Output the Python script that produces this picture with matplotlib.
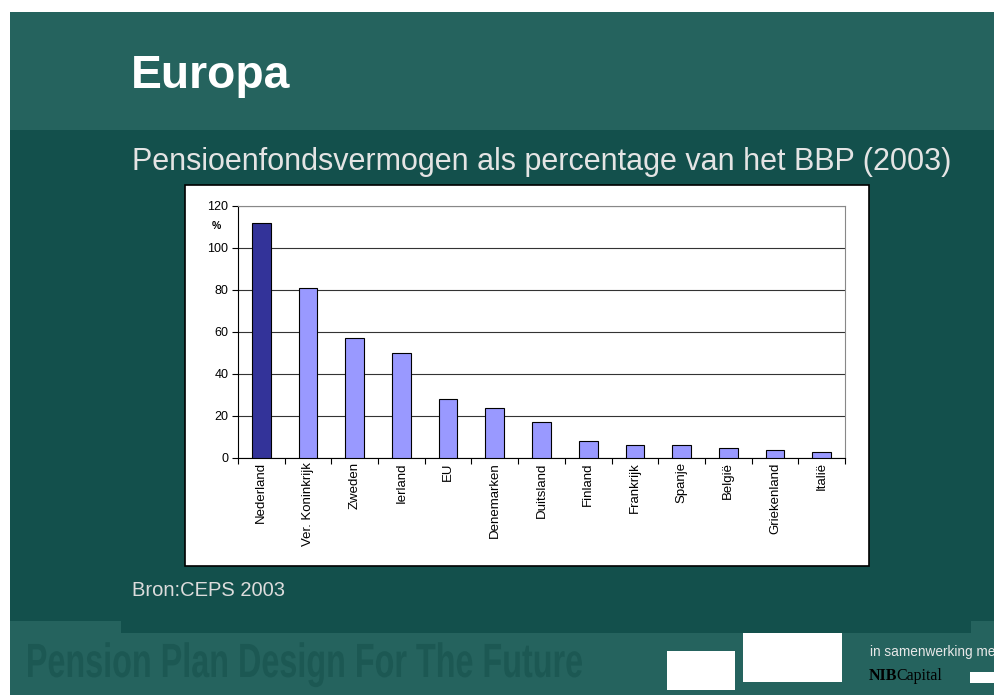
import matplotlib.pyplot as plt
from matplotlib.patches import Rectangle, PathPatch
from matplotlib.textpath import TextPath
from matplotlib.font_manager import FontProperties
from matplotlib.transforms import Affine2D

W, H = 995, 695

landen = ['Nederland', 'Ver. Koninkrijk', 'Zweden', 'Ierland', 'EU', 'Denemarken',
          'Duitsland', 'Finland', 'Frankrijk', 'Spanje', 'België', 'Griekenland', 'Italië']
procent_bbp = [112, 81, 57, 50, 28, 24, 17, 8, 6, 6, 5, 4, 3]
y_ticks = [0, 20, 40, 60, 80, 100, 120]

TOP = '#25635e'
BODY = '#13504c'
DARK_BAR = '#333399'
LIGHT_BAR = '#9999ff'

plt.rcParams['font.family'] = ['Liberation Sans', 'DejaVu Sans']

fig = plt.figure(figsize=(W / 100, H / 100), dpi=100)
fig.patch.set_facecolor('white')


def box(x0, y0, x1, y1, **kw):
    # pixel box (top-left origin) -> figure rectangle
    r = Rectangle((x0 / W, 1 - y1 / H), (x1 - x0) / W, (y1 - y0) / H,
                  transform=fig.transFigure, zorder=-1, **kw)
    fig.patches.append(r)
    return r


def txt(x, y, s, **kw):
    return fig.text(x / W, 1 - y / H, s, **kw)


# slide background
box(10, 12, W, 130, facecolor=TOP, edgecolor='none')
box(10, 130, W, 621, facecolor=BODY, edgecolor='none')
box(10, 621, W, H, facecolor=TOP, edgecolor='none')
box(121, 620, 971, 633, facecolor=BODY, edgecolor='none')

txt(131, 76, 'Europa', color='white', fontsize=33.3, fontweight='bold', va='center')
txt(132, 162, 'Pensioenfondsvermogen als percentage van het BBP (2003)',
    color='#e4e4e4', fontsize=22, va='center')
txt(132, 590, 'Bron:CEPS 2003', color='#dcdcdc', fontsize=14.5, va='center')

# footer slogan, squeezed horizontally (condensed look)
slogan = TextPath((0, 0), 'Pension Plan Design For The Future', size=48,
                  prop=FontProperties(family='Liberation Sans', weight='bold'))
ext = slogan.get_extents()
sx = 554 / ext.width
t = (Affine2D().translate(-ext.x0, 0).scale(sx / W, 1 / H)
     .translate(28 / W, 1 - 677 / H) + fig.transFigure)
fig.patches.append(PathPatch(slogan, transform=t, facecolor='#1c5853',
                             edgecolor='none', zorder=-0.5))

box(667, 651, 735, 690, facecolor='white', edgecolor='none')
box(743, 633, 842, 682, facecolor='white', edgecolor='none')
box(970, 672, 995, 683, facecolor='white', edgecolor='none')
txt(870, 652, 'in samenwerking met', color='#e8e8e8', fontsize=9.8, va='center')
txt(869, 676, 'NIB', color='black', fontsize=11.5, fontweight='bold', va='center',
    family='Liberation Serif')
txt(896, 676, 'Capital', color='black', fontsize=11.5, va='center', family='Liberation Serif')

# chart frame
box(185, 185, 869, 566, facecolor='white', edgecolor='black', linewidth=1.2)

ax = fig.add_axes([238 / W, 1 - 458 / H, (845 - 238) / W, (458 - 206) / H])
ax.set_zorder(2)
ax.set_facecolor('white')
x = range(len(landen))
colors = [DARK_BAR] + [LIGHT_BAR] * (len(landen) - 1)
ax.bar(x, procent_bbp, width=0.4, color=colors, edgecolor='black', linewidth=0.8, zorder=3)

ax.set_xlim(-0.5, len(landen) - 0.5)
ax.set_ylim(0, 120)
ax.set_yticks(y_ticks)
ax.yaxis.grid(True, color='#333333', linewidth=0.8)
ax.set_axisbelow(True)
ax.tick_params(axis='y', direction='out', length=4, labelsize=9, pad=3)

ax.set_xticks([i + 0.5 for i in range(-1, len(landen))], minor=False)
ax.set_xticklabels([])
ax.tick_params(axis='x', direction='out', length=4)
ax.set_xticks(list(x), minor=True)
ax.set_xticklabels(landen, minor=True, rotation=90, fontsize=9.5, va='top')
ax.tick_params(axis='x', which='minor', length=0, pad=3)

for side in ['top', 'right']:
    ax.spines[side].set_color('#888888')
ax.spines['left'].set_color('black')
ax.spines['bottom'].set_color('black')

txt(216, 226, '%', color='black', fontsize=7.5, fontweight='bold', va='center', ha='center')

fig.savefig('out.png', dpi=100)
